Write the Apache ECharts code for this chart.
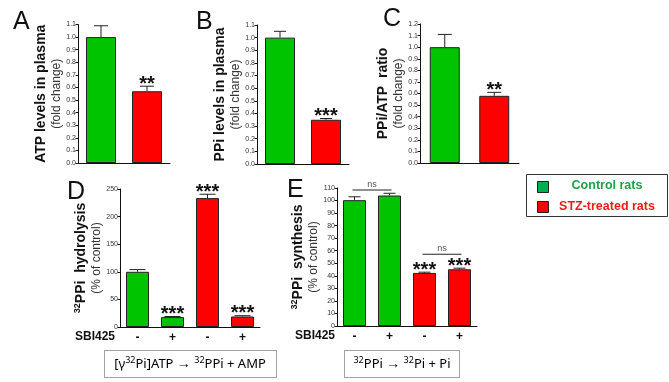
<!DOCTYPE html>
<html>
<head>
<meta charset="utf-8">
<script src="https://cdn.jsdelivr.net/npm/echarts@6/dist/echarts.min.js"></script>
<style>
  html, body { margin: 0; padding: 0; background: #fff; }
  #chart { width: 669px; height: 382px; }
</style>
</head>
<body>
<div id="chart"></div>
<script>
// top row: Control vs STZ, fold change
const topGroups = ['Control rats', 'STZ-treated rats']
const atpMean = [1.0, 0.57]
const atpErr = [0.09, 0.04]
const atpSig = ['', '**']
const ppiMean = [1.0, 0.35]
const ppiErr = [0.05, 0.01]
const ppiSig = ['', '***']
const ratioMean = [1.0, 0.58]
const ratioErr = [0.11, 0.03]
const ratioSig = ['', '**']

// bottom row: with / without SBI425
const sbiLabels = ['-', '+', '-', '+']
const sbiGroups = ['Control rats', 'Control rats', 'STZ-treated rats', 'STZ-treated rats']
const hydroMean = [100, 18, 233.5, 19]
const hydroErr = [4, 1, 7, 1.5]
const hydroSig = ['', '***', '***', '***']
const synthMean = [100.3, 104, 42.3, 45.2]
const synthErr = [2.7, 1.8, 0.6, 0.9]
const synthSig = ['', '', '***', '***']
// [from bar, to bar, height]
const synthNs = [[0, 1, 108.4], [2, 3, 57.2]]

const green = '#00c400'
const red = '#ff0000'
const groupColor = g => (g === 'Control rats' ? green : red)
const font = 'Liberation Sans, Arial, sans-serif'

const chart = echarts.init(document.getElementById('chart'), null, { renderer: 'canvas' })

const grids = [
  { left: 78, top: 24.5, width: 92, height: 138.5 },
  { left: 257, top: 25, width: 92, height: 139 },
  { left: 420, top: 24, width: 99, height: 139 },
  { left: 120, top: 189, width: 140, height: 138 },
  { left: 337, top: 188, width: 140, height: 138 }
].map(g => Object.assign({ outerBoundsMode: 'none', containLabel: false }, g))

const axisLine = { show: true, lineStyle: { color: '#111', width: 1 } }

const xCat = (idx, data, showLabels) => ({
  type: 'category',
  gridIndex: idx,
  data: data,
  axisLine: axisLine,
  axisTick: { show: false },
  axisLabel: showLabels
    ? { show: true, color: '#111', fontSize: 12, fontWeight: 'bold', fontFamily: font, margin: 5 }
    : { show: false },
  splitLine: { show: false }
})

const nameRich = {
  b: { fontSize: 14, fontWeight: 'bold', fontFamily: font, color: '#111', lineHeight: 16 },
  s: { fontSize: 9, fontWeight: 'bold', fontFamily: font, color: '#111', lineHeight: 16, verticalAlign: 'top' },
  n: { fontSize: 12, fontFamily: font, color: '#333', lineHeight: 15 }
}

const yVal = (idx, max, interval, name, gap, digits) => ({
  type: 'value',
  gridIndex: idx,
  min: 0,
  max: max,
  interval: interval,
  name: name,
  nameLocation: 'middle',
  nameRotate: 90,
  nameGap: gap,
  nameMoveOverlap: false,
  nameTextStyle: { rich: nameRich },
  axisLine: axisLine,
  axisTick: { show: true, length: 2.5, lineStyle: { color: '#111' } },
  axisLabel: {
    color: '#333', fontSize: 7, fontFamily: font, margin: 2,
    formatter: v => v.toFixed(digits)
  },
  splitLine: { show: false }
})

const barSeries = (idx, values, groups, width) => ({
  type: 'bar',
  xAxisIndex: idx,
  yAxisIndex: idx,
  barWidth: width,
  data: values.map((v, i) => ({
    value: v,
    itemStyle: { color: groupColor(groups[i]), borderColor: '#222', borderWidth: 1 }
  })),
  z: 2
})

// error bar (upper only) with cap and significance stars
const errSeries = (idx, mean, err, sig, capHalf) => ({
  type: 'custom',
  xAxisIndex: idx,
  yAxisIndex: idx,
  data: mean.map((m, i) => [i, m, m + err[i]]),
  z: 3,
  renderItem: (params, api) => {
    const base = api.coord([api.value(0), api.value(1)])
    const top = api.coord([api.value(0), api.value(2)])
    const children = [
      { type: 'line', shape: { x1: base[0], y1: base[1], x2: top[0], y2: top[1] }, style: { stroke: '#222', lineWidth: 1 } },
      { type: 'line', shape: { x1: top[0] - capHalf, y1: top[1], x2: top[0] + capHalf, y2: top[1] }, style: { stroke: '#222', lineWidth: 1 } }
    ]
    const s = sig[params.dataIndex]
    if (s) {
      children.push({
        type: 'text',
        style: {
          x: top[0], y: top[1] - 2,
          text: s, fill: '#111', font: 'bold 20px ' + font,
          textAlign: 'center', textVerticalAlign: 'middle'
        }
      })
    }
    return { type: 'group', children: children }
  }
})

const nsSeries = (idx, items) => ({
  type: 'custom',
  xAxisIndex: idx,
  yAxisIndex: idx,
  data: items,
  z: 3,
  renderItem: (params, api) => {
    const a = api.coord([api.value(0), api.value(2)])
    const b = api.coord([api.value(1), api.value(2)])
    return {
      type: 'group',
      children: [
        { type: 'line', shape: { x1: a[0] - 2, y1: a[1], x2: b[0] + 2, y2: b[1] }, style: { stroke: '#222', lineWidth: 1 } },
        { type: 'text', style: { x: (a[0] + b[0]) / 2, y: a[1] - 1, text: 'ns', fill: '#555', font: '9px ' + font, textAlign: 'center', textVerticalAlign: 'bottom' } }
      ]
    }
  }
})

const letter = (t, x, y) => ({
  type: 'text', left: x, top: y,
  style: { text: t, fill: '#111', font: '25px ' + font }
})

const boxFont = '"Noto Sans", "Open Sans", sans-serif'
const boxRich = {
  t: { fontSize: 13, fontFamily: boxFont, color: '#222', lineHeight: 16 },
  s: { fontSize: 9, fontFamily: boxFont, color: '#222', lineHeight: 16, verticalAlign: 'top' },
  a: { fontSize: 14, fontWeight: 'bold', fontFamily: boxFont, color: '#222', lineHeight: 16 }
}

const option = {
  animation: false,
  backgroundColor: '#fff',
  grid: grids,
  xAxis: [
    xCat(0, topGroups, false),
    xCat(1, topGroups, false),
    xCat(2, topGroups, false),
    xCat(3, sbiLabels, true),
    xCat(4, sbiLabels, true)
  ],
  yAxis: [
    yVal(0, 1.1, 0.1, '{b|ATP levels in plasma}\n{n|(fold change)}', 14, 1),
    yVal(1, 1.1, 0.1, '{b|PPi levels in plasma}\n{n|(fold change)}', 14, 1),
    yVal(2, 1.2, 0.1, '{b|PPi/ATP  ratio}\n{n|(fold change)}', 14, 1),
    yVal(3, 250, 50, '{s|32}{b|PPi  hydrolysis}\n{n|(% of control)}', 16, 0),
    yVal(4, 110, 10, '{s|32}{b|PPi  synthesis}\n{n|(% of control)}', 16, 0)
  ],
  series: [
    barSeries(0, atpMean, topGroups, 30),
    errSeries(0, atpMean, atpErr, atpSig, 7),
    barSeries(1, ppiMean, topGroups, 30),
    errSeries(1, ppiMean, ppiErr, ppiSig, 6),
    barSeries(2, ratioMean, topGroups, 30),
    errSeries(2, ratioMean, ratioErr, ratioSig, 7),
    barSeries(3, hydroMean, sbiGroups, 23),
    errSeries(3, hydroMean, hydroErr, hydroSig, 8),
    barSeries(4, synthMean, sbiGroups, 23),
    errSeries(4, synthMean, synthErr, synthSig, 6),
    nsSeries(4, synthNs)
  ],
  graphic: [
    letter('A', 13, 10),
    letter('B', 196, 10),
    letter('C', 383, 7),
    letter('D', 67, 180),
    letter('E', 287, 178),
    { type: 'text', right: 669 - 115, top: 331, style: { text: 'SBI425', fill: '#111', font: 'bold 12px ' + font } },
    { type: 'text', right: 669 - 335, top: 330, style: { text: 'SBI425', fill: '#111', font: 'bold 12px ' + font } },
    // reaction boxes
    { type: 'rect', shape: { x: 104.5, y: 350.5, width: 172, height: 27 }, style: { fill: 'none', stroke: '#444', lineWidth: 1, lineDash: [1, 1] } },
    { type: 'text', x: 190, y: 364, style: {
      text: '{t|[γ}{s|32}{t|Pi]ATP }{a|→}{t| }{s|32}{t|PPi + AMP}', rich: boxRich,
      textAlign: 'center', textVerticalAlign: 'middle' } },
    { type: 'rect', shape: { x: 344.5, y: 350.5, width: 115, height: 27 }, style: { fill: 'none', stroke: '#444', lineWidth: 1, lineDash: [1, 1] } },
    { type: 'text', x: 402, y: 364, style: {
      text: '{s|32}{t|PPi }{a|→}{t| }{s|32}{t|Pi + Pi}', rich: boxRich,
      textAlign: 'center', textVerticalAlign: 'middle' } },
    // legend
    { type: 'rect', shape: { x: 526.5, y: 174.5, width: 141, height: 42 }, style: { fill: '#fff', stroke: '#333', lineWidth: 1 } },
    { type: 'rect', shape: { x: 537.5, y: 181.5, width: 11, height: 11 }, style: { fill: '#00b050', stroke: '#222', lineWidth: 1 } },
    { type: 'rect', shape: { x: 537.5, y: 201.5, width: 11, height: 11 }, style: { fill: red, stroke: '#222', lineWidth: 1 } },
    { type: 'text', x: 607, y: 186, style: { text: topGroups[0], fill: '#1fa04a', font: 'bold 12.5px ' + font, textAlign: 'center', textVerticalAlign: 'middle' } },
    { type: 'text', x: 607, y: 207, style: { text: topGroups[1], fill: '#ee1c1c', font: 'bold 12.5px ' + font, textAlign: 'center', textVerticalAlign: 'middle' } }
  ]
}

chart.setOption(option)
</script>
</body>
</html>
